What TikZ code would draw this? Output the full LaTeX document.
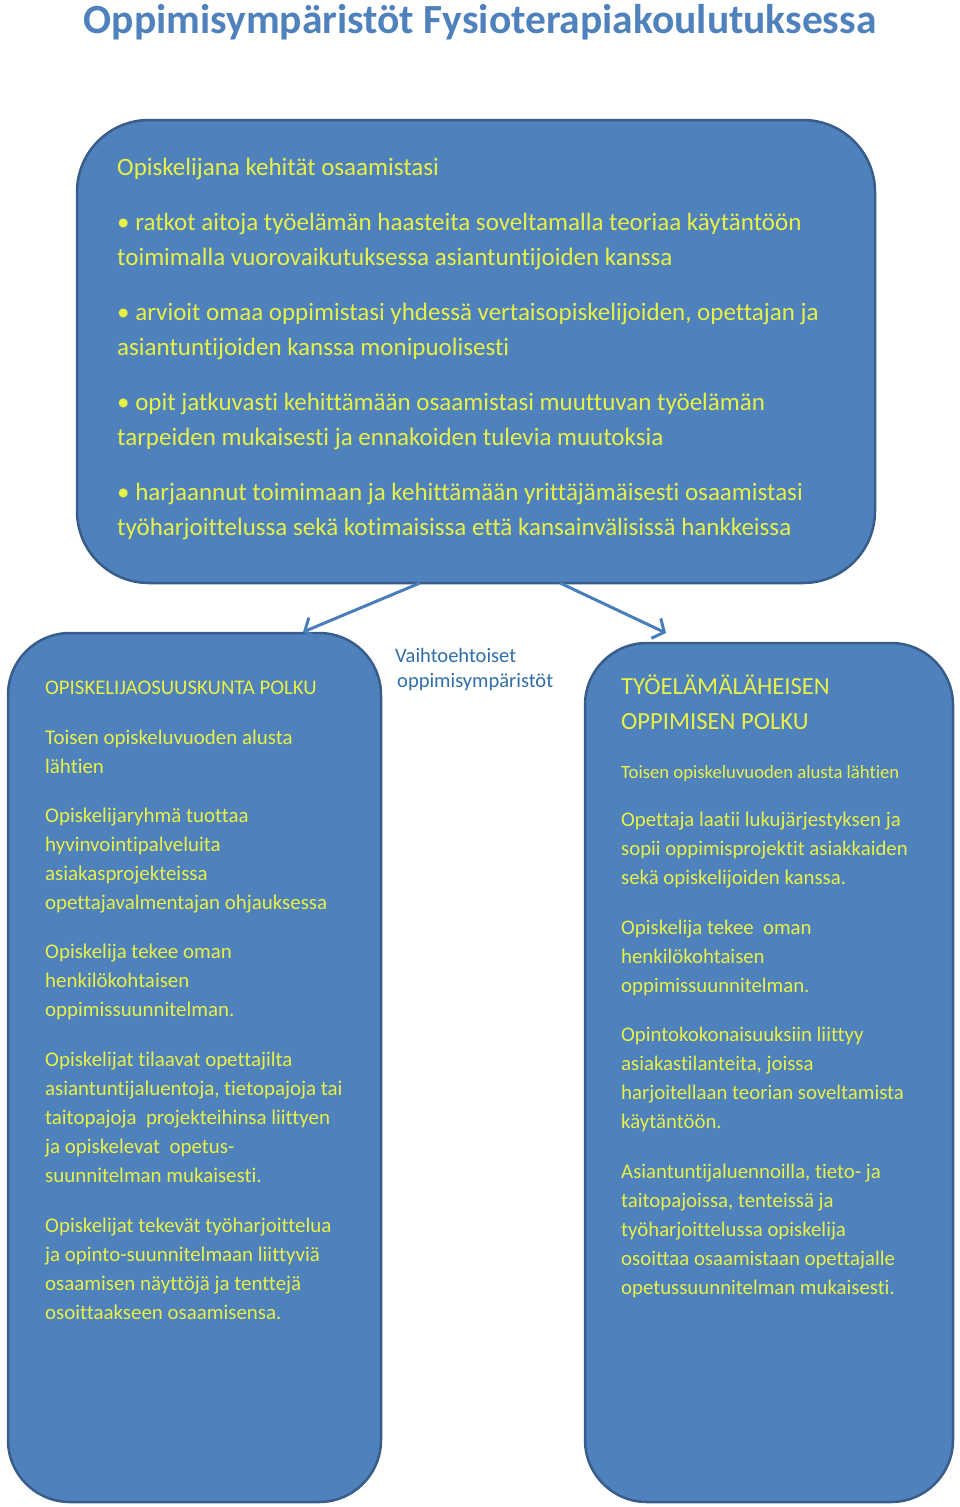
\documentclass[tikz,border=0pt]{standalone}
\usepackage{fontspec}
\setmainfont{Carlito}[Ligatures=NoCommon]
\usetikzlibrary{arrows.meta}
\definecolor{boxfill}{RGB}{79,129,189}
\definecolor{boxline}{RGB}{56,93,138}
\definecolor{yel}{RGB}{232,242,70}
\definecolor{titleblue}{RGB}{79,129,189}
\definecolor{midblue}{RGB}{47,110,168}
\definecolor{arrowblue}{RGB}{74,126,187}
\begin{document}
\begin{tikzpicture}[x=1pt,y=-1pt,
  box/.style={draw=boxline, line width=2.5pt, fill=boxfill, rectangle, inner sep=0pt, outer sep=0pt},
  tl/.style={anchor=base west, inner sep=0pt, text=yel, font=\fontsize{25}{29}\selectfont},
  ll/.style={anchor=base west, inner sep=0pt, text=yel, font=\fontsize{20.9}{25}\selectfont},
  rl/.style={anchor=base west, inner sep=0pt, text=yel, font=\fontsize{20.8}{25}\selectfont},
  conn/.style={draw=arrowblue, line width=3pt, -{Straight Barb[length=9pt,width=22pt]}}]
\useasboundingbox (0,0) rectangle (960,1507);
% title
\node[anchor=base, inner sep=0pt, text=titleblue, font=\fontsize{41.5}{46}\selectfont\bfseries] (title) at (480,33) {Oppimisympäristöt Fysioterapiakoulutuksessa};
% boxes
\node[box, rounded corners=72pt, minimum width=798pt, minimum height=463pt] (top) at (476,351.5) {};
\node[box, rounded corners=62pt, minimum width=373pt, minimum height=869pt] (left) at (194.5,1067.5) {};
\node[box, rounded corners=62pt, minimum width=368pt, minimum height=859pt] (right) at (769,1072.5) {};
% connectors
\coordinate (a1s) at (420,583);
\coordinate (a1e) at (303,632);
\coordinate (a2s) at (560,583);
\coordinate (a2e) at (666,633);
\draw[conn] (a1s) -- (a1e);
\draw[conn] (a2s) -- (a2e);
% top box text
\node[tl] (t1) at (117,175) {Opiskelijana kehität osaamistasi};
\node[tl] (t2) at (117,230) {• ratkot aitoja työelämän haasteita soveltamalla teoriaa käytäntöön};
\node[tl] (t3) at (117,265) {toimimalla vuorovaikutuksessa asiantuntijoiden kanssa};
\node[tl] (t4) at (117,320) {• arvioit omaa oppimistasi yhdessä vertaisopiskelijoiden, opettajan ja};
\node[tl] (t5) at (117,355) {asiantuntijoiden kanssa monipuolisesti};
\node[tl] (t6) at (117,410) {• opit jatkuvasti kehittämään osaamistasi muuttuvan työelämän};
\node[tl] (t7) at (117,445) {tarpeiden mukaisesti ja ennakoiden tulevia muutoksia};
\node[tl] (t8) at (117,500) {• harjaannut toimimaan ja kehittämään yrittäjämäisesti osaamistasi};
\node[tl] (t9) at (117,535) {työharjoittelussa sekä kotimaisissa että kansainvälisissä hankkeissa};
% middle label
\node[anchor=base west, inner sep=0pt, text=midblue, font=\fontsize{20.5}{24}\selectfont] (m1) at (395,662) {Vaihtoehtoiset};
\node[anchor=base west, inner sep=0pt, text=midblue, font=\fontsize{20.5}{24}\selectfont] (m2) at (397,687) {oppimisympäristöt};
% left box text
\node[ll, font=\fontsize{20.8}{24}\selectfont] (l1) at (45,694) {OPISKELIJAOSUUSKUNTA POLKU};
\node[ll] (l2) at (45,744) {Toisen opiskeluvuoden alusta};
\node[ll] (l3) at (45,773) {lähtien};
\node[ll] (l4) at (45,822) {Opiskelijaryhmä tuottaa};
\node[ll] (l5) at (45,851) {hyvinvointipalveluita};
\node[ll] (l6) at (45,880) {asiakasprojekteissa};
\node[ll] (l7) at (45,909) {opettajavalmentajan ohjauksessa};
\node[ll] (l8) at (45,958) {Opiskelija tekee oman};
\node[ll] (l9) at (45,987) {henkilökohtaisen};
\node[ll] (l10) at (45,1016) {oppimissuunnitelman.};
\node[ll] (l11) at (45,1066) {Opiskelijat tilaavat opettajilta};
\node[ll] (l12) at (45,1095) {asiantuntijaluentoja, tietopajoja tai};
\node[ll] (l13) at (45,1124) {taitopajoja\ \ projekteihinsa liittyen};
\node[ll] (l14) at (45,1153) {ja opiskelevat\ \ opetus-};
\node[ll] (l15) at (45,1182) {suunnitelman mukaisesti.};
\node[ll] (l16) at (45,1232) {Opiskelijat tekevät työharjoittelua};
\node[ll] (l17) at (45,1261) {ja opinto-suunnitelmaan liittyviä};
\node[ll] (l18) at (45,1290) {osaamisen näyttöjä ja tenttejä};
\node[ll] (l19) at (45,1319) {osoittaakseen osaamisensa.};
% right box text
\node[rl, font=\fontsize{24.6}{28}\selectfont] (r1) at (621,694) {TYÖELÄMÄLÄHEISEN};
\node[rl, font=\fontsize{24.6}{28}\selectfont] (r2) at (621,729) {OPPIMISEN POLKU};
\node[rl, font=\fontsize{18.7}{22}\selectfont] (r3) at (621,778) {Toisen opiskeluvuoden alusta lähtien};
\node[rl] (r4) at (621,826) {Opettaja laatii lukujärjestyksen ja};
\node[rl] (r5) at (621,855) {sopii oppimisprojektit asiakkaiden};
\node[rl] (r6) at (621,884) {sekä opiskelijoiden kanssa.};
\node[rl] (r7) at (621,934) {Opiskelija tekee\ \ oman};
\node[rl] (r8) at (621,963) {henkilökohtaisen};
\node[rl] (r9) at (621,992) {oppimissuunnitelman.};
\node[rl] (r10) at (621,1041) {Opintokokonaisuuksiin liittyy};
\node[rl] (r11) at (621,1070) {asiakastilanteita, joissa};
\node[rl] (r12) at (621,1099) {harjoitellaan teorian soveltamista};
\node[rl] (r13) at (621,1128) {käytäntöön.};
\node[rl] (r14) at (621,1178) {Asiantuntijaluennoilla, tieto- ja};
\node[rl] (r15) at (621,1207) {taitopajoissa, tenteissä ja};
\node[rl] (r16) at (621,1236) {työharjoittelussa opiskelija};
\node[rl] (r17) at (621,1265) {osoittaa osaamistaan opettajalle};
\node[rl] (r18) at (621,1294) {opetussuunnitelman mukaisesti.};
\end{tikzpicture}
\end{document}
